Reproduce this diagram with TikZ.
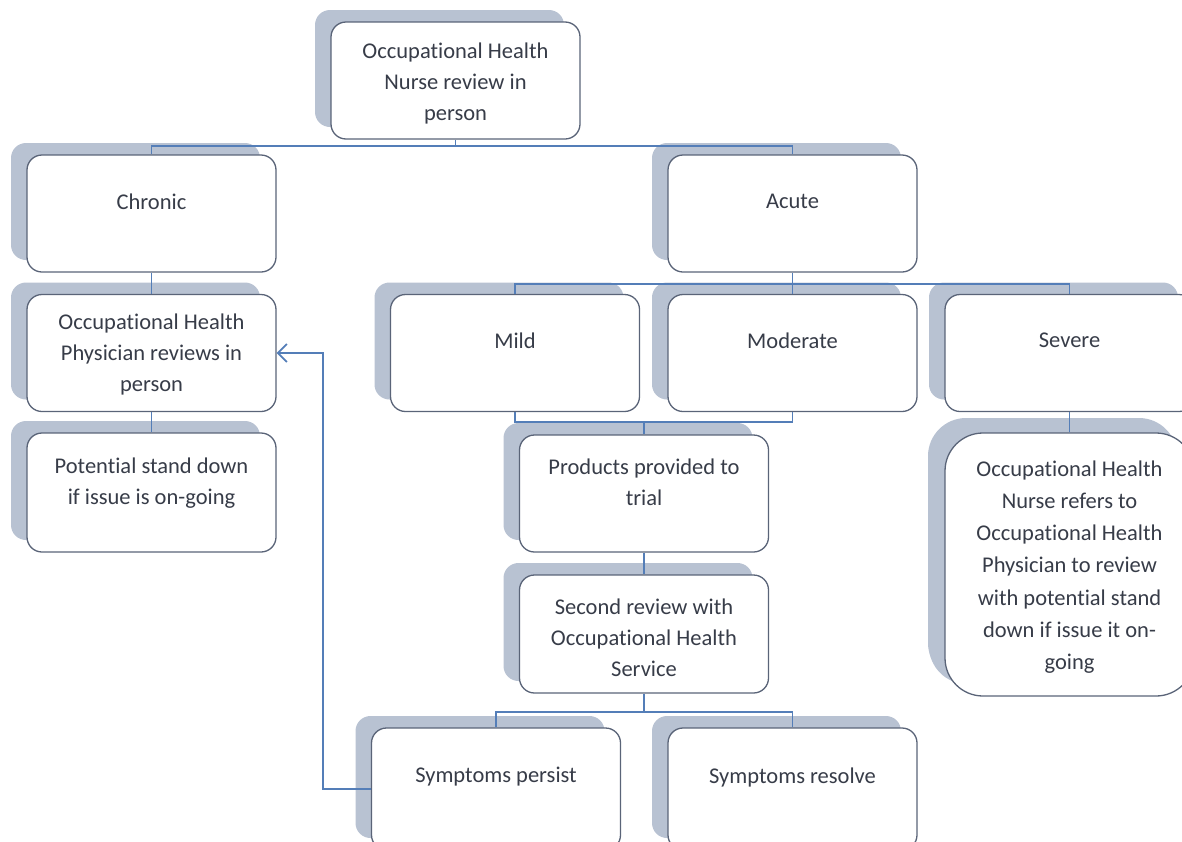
\documentclass[tikz,border=0pt]{standalone}
\usepackage{fontspec}
\setmainfont{Carlito}[Ligatures=CommonOff]
\usetikzlibrary{shadows,arrows.meta}
\definecolor{shadowc}{RGB}{184,194,210}
\definecolor{borderc}{RGB}{90,100,120}
\definecolor{linec}{RGB}{84,126,184}
\definecolor{textc}{RGB}{55,60,72}
\tikzset{
  card/.style={draw=borderc, line width=1.3pt, fill=white, rounded corners=15pt,
    minimum width=249pt, minimum height=117pt, inner sep=0pt,
    general shadow={fill=shadowc, shadow xshift=-16pt, shadow yshift=12pt}},
  tallcard/.style={card, rounded corners=38pt, minimum height=263pt,
    general shadow={fill=shadowc, shadow xshift=-17pt, shadow yshift=15pt}},
  lbl/.style={text=textc, align=center, inner sep=0pt,
    font=\fontsize{22.5}{31}\selectfont},
  tlbl/.style={lbl, font=\fontsize{22.5}{32.2}\selectfont},
  conn/.style={draw=linec, line width=1.5pt},
  back/.style={draw=linec, line width=1.8pt, -{Straight Barb[length=9pt,width=18pt,line width=1.8pt]}}
}
\begin{document}
\begin{tikzpicture}[x=1pt,y=-1pt]
\useasboundingbox (0,0) rectangle (1182,841);
\clip (0,0) rectangle (1182,841);
% boxes
\node[card] (top) at (455.5,80.5) {};
\node[card] (chronic) at (151.5,213.5) {};
\node[card] (acute) at (792.5,213.5) {};
\node[card] (physician) at (151.5,353) {};
\node[card, minimum height=119pt] (potential) at (151.5,492.5) {};
\node[card] (mild) at (515,353) {};
\node[card] (moderate) at (792.5,353) {};
\node[card] (severe) at (1069.5,353) {};
\node[card] (products) at (644,493.5) {};
\node[card, minimum height=118pt] (second) at (644,634) {};
\node[card, minimum height=122pt] (persist) at (496,789) {};
\node[card, minimum height=122pt] (resolve) at (792.5,789) {};
\node[tallcard] (refer) at (1069.5,564.5) {};
% texts
\node[lbl] (ttop) at (455.5,83) {Occupational Health\\Nurse review in\\person};
\node[lbl] (tchronic) at (151.5,201.5) {Chronic};
\node[lbl] (tacute) at (792.5,201.5) {Acute};
\node[lbl] (tphys) at (151.5,354.5) {Occupational Health\\Physician reviews in\\person};
\node[lbl] (tpot) at (151.5,483.5) {Potential stand down\\if issue is on-going};
\node[lbl] (tmild) at (515,340.5) {Mild};
\node[lbl] (tmod) at (792.5,340.5) {Moderate};
\node[lbl] (tsev) at (1069.5,340.5) {Severe};
\node[lbl] (tprod) at (644,482) {Products provided to\\trial};
\node[lbl] (tsec) at (644,638) {Second review with\\Occupational Health\\Service};
\node[lbl] (tpers) at (496,777) {Symptoms persist};
\node[lbl] (tres) at (792.5,777) {Symptoms resolve};
\node[tlbl] (tref) at (1069.5,567) {Occupational Health\\Nurse refers to\\Occupational Health\\Physician to review\\with potential stand\\down if issue it on-\\going};
% junction rows
\coordinate (r1) at (0,146);
\coordinate (r2) at (0,284);
\coordinate (r3) at (0,422);
\coordinate (r4) at (0,712);
\coordinate (bx) at (323,0);
% connectors
\draw[conn] (top.south) -- (top.south |- r1) -| (chronic.north);
\draw[conn] (top.south |- r1) -| (acute.north);
\draw[conn] (chronic.south) -- (physician.north);
\draw[conn] (physician.south) -- (potential.north);
\draw[conn] (acute.south) -- (acute.south |- r2) -| (mild.north);
\draw[conn] (acute.south |- r2) -- (moderate.north);
\draw[conn] (acute.south |- r2) -| (severe.north);
\draw[conn] (severe.south) -- (refer.north);
\draw[conn] (mild.south) |- (moderate.south |- r3) -- (moderate.south);
\draw[conn] (products.north) -- (products.north |- r3);
\draw[conn] (products.south) -- (second.north);
\draw[conn] (second.south) -- (second.south |- r4) -| (persist.north);
\draw[conn] (second.south |- r4) -| (resolve.north);
\draw[back] (persist.west) -- (bx |- persist.west) -- (bx |- physician.east) -- (physician.east);
\end{tikzpicture}
\end{document}
